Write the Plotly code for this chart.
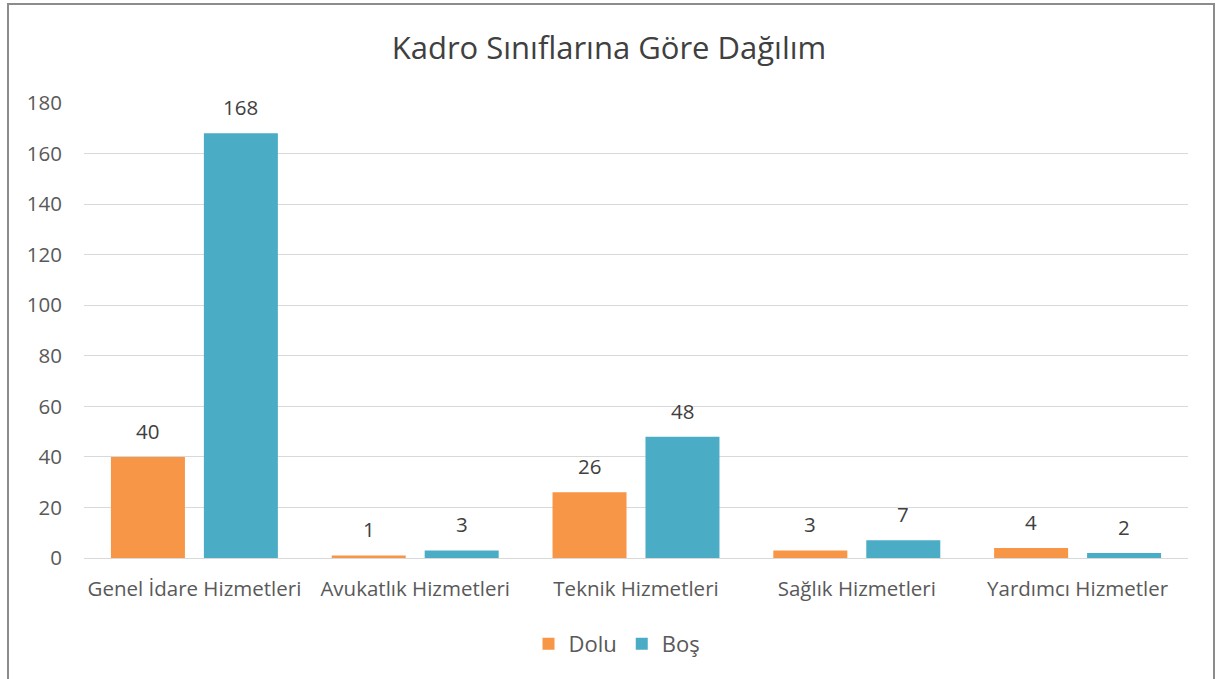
import plotly.graph_objects as go

categories = ["Genel İdare Hizmetleri", "Avukatlık Hizmetleri", "Teknik Hizmetleri", "Sağlık Hizmetleri", "Yardımcı Hizmetler"]
dolu = [40, 1, 26, 3, 4]
bos = [168, 3, 48, 7, 2]
y_ticks = [0, 20, 40, 60, 80, 100, 120, 140, 160, 180]

FONT = "Open Sans"
W, H = 1218, 679
L, R, T, B = 84, 30, 103, 121

fig = go.Figure()
fig.add_trace(go.Bar(name="Dolu", x=categories, y=dolu, marker=dict(color="#F79646", line=dict(width=0))))
fig.add_trace(go.Bar(name="Boş", x=categories, y=bos, marker=dict(color="#4BACC6", line=dict(width=0))))

ann = []
for vals, shift in ((dolu, -46.5), (bos, 46.5)):
    for c, v in zip(categories, vals):
        ann.append(dict(x=c, y=v, xref="x", yref="y", text=str(v), showarrow=False,
                        xshift=shift, yshift=10, yanchor="bottom",
                        font=dict(family=FONT, size=20.5, color="#404040")))

pw = W - L - R
ph = H - T - B
def px_x(p):
    return (p - L) / pw
def px_y(p):
    return (H - B - p) / ph

fig.update_layout(
    width=W, height=H,
    margin=dict(l=L, r=R, t=T, b=B),
    paper_bgcolor="white", plot_bgcolor="white",
    title=dict(text="Kadro Sınıflarına Göre Dağılım", x=0.5, xanchor="center",
               y=1 - 48 / H, yanchor="middle",
               font=dict(family=FONT, size=31, color="#404040")),
    barmode="group", bargap=0.158, bargroupgap=0.204,
    font=dict(family=FONT, color="#595959"),
    xaxis=dict(showgrid=False, showline=False, zeroline=False, ticks="",
               tickfont=dict(family=FONT, size=20.5, color="#595959"),
               ticklabelstandoff=16),
    yaxis=dict(range=[0, 180], tickvals=y_ticks, showgrid=True, gridcolor="#D9D9D9", gridwidth=1,
               zeroline=True, zerolinecolor="#D9D9D9", zerolinewidth=1, showline=False, ticks="",
               tickfont=dict(family=FONT, size=20.5, color="#595959"), ticklabelstandoff=21),
    legend=dict(orientation="h", x=px_x(617), xanchor="center", y=px_y(644), yanchor="middle",
                font=dict(family=FONT, size=22, color="#595959"), itemwidth=30,
                bgcolor="rgba(0,0,0,0)"),
    annotations=ann,
    shapes=[dict(type="rect", xref="paper", yref="paper",
                 x0=px_x(8), x1=px_x(1214), y0=px_y(700), y1=px_y(4),
                 line=dict(color="#8C8C8C", width=2), fillcolor="rgba(0,0,0,0)", layer="below")],
)

fig.write_html("out.html", config={"displayModeBar": False},
               post_script="document.body.style.margin='0';document.body.style.overflow='hidden';")
